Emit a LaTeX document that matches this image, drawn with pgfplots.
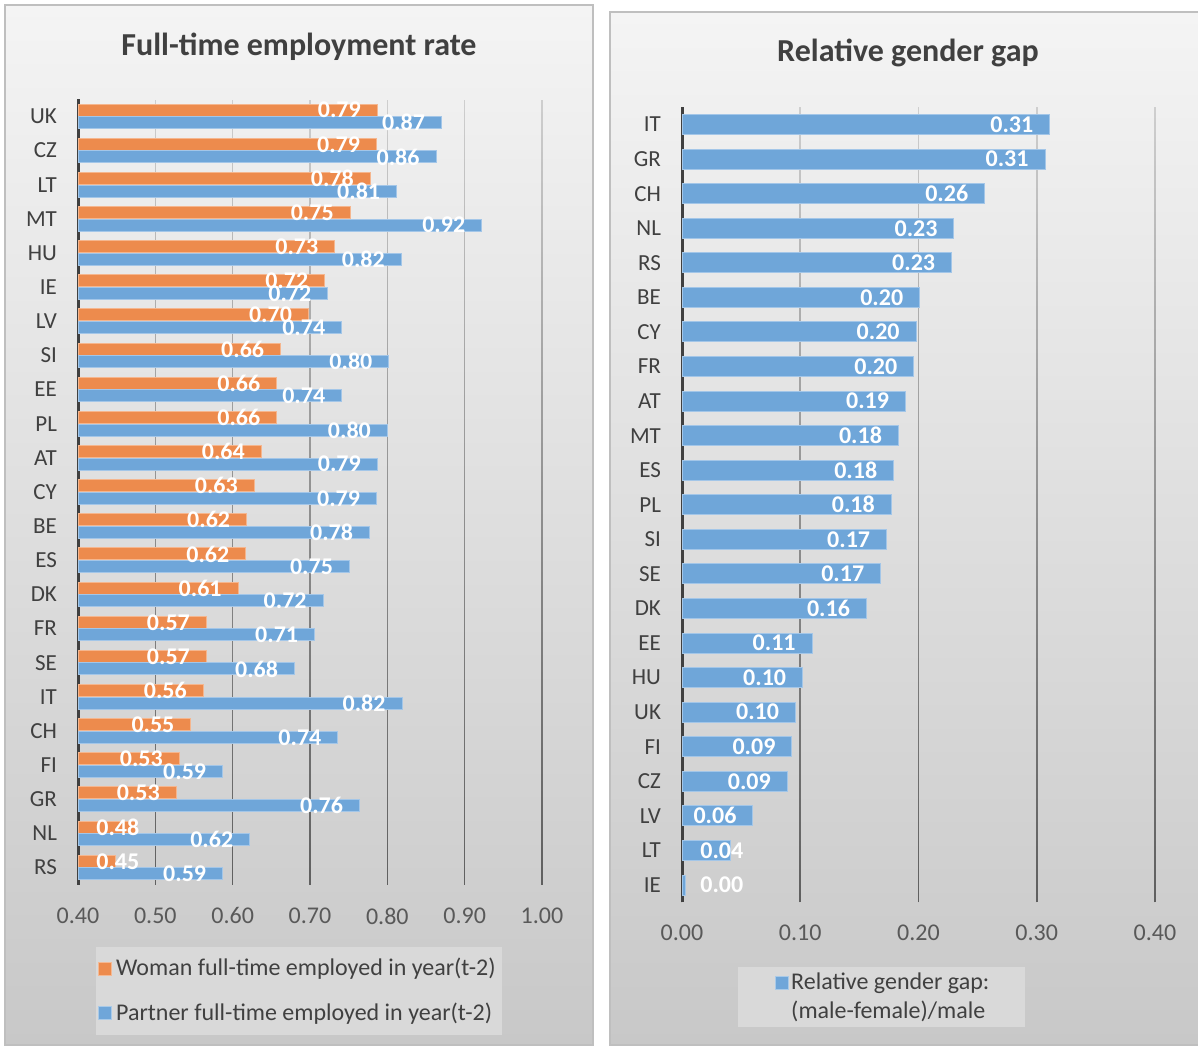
\documentclass[border=0pt]{standalone}
\usepackage{pgfplots}
\pgfplotsset{compat=1.18}
\usetikzlibrary{fadings}
\usepackage{fontspec}
\setmainfont{Carlito}
\definecolor{ob}{HTML}{ED8B4D}
\definecolor{obd}{HTML}{F5B68E}
\definecolor{bb}{HTML}{6FA6D9}
\definecolor{bbd}{HTML}{A3C6E8}
\definecolor{txt}{HTML}{404040}
\definecolor{ticktxt}{HTML}{595959}
\definecolor{pb}{HTML}{BFBFBF}
\definecolor{lf}{HTML}{D9D9D9}
\definecolor{bgtop}{HTML}{F4F4F4}
\definecolor{bgbot}{HTML}{C8C8C8}
\tikzfading[name=gridfade, top color=transparent!80, bottom color=transparent!15]

\pgfplotsset{
  panel/.style={
    scale only axis, xbar,
    axis lines*=left,
    x axis line style={draw=none},
    y axis line style={draw=txt, line width=1.5pt, -},
    major tick length=0pt,
    xmajorgrids, ymajorgrids=false,
    major grid style={draw=black!70, line width=0.8pt, path fading=gridfade},
    xticklabel style={font=\fontsize{12}{14}\selectfont, text=ticktxt, yshift=-8pt},
    yticklabel style={font=\fontsize{11.5}{14}\selectfont, text=txt, xshift=-7pt},
    ytick={0,...,22},
    ymin=-0.5, ymax=22.5,
    legend cell align=left,
    /pgf/number format/assume math mode=true,
  },
  lbl/.style={
    point meta=x,
    nodes near coords={\pgfmathprintnumber[fixed,zerofill,precision=2,assume math mode=true]{\pgfplotspointmeta}},
    nodes near coords align={anchor=east},
    every node near coord/.append style={font=\bfseries\fontsize{12}{13}\selectfont, text=white, inner sep=1pt, xshift=-7pt},
  },
  lblw/.style={
    draw=none, fill=none,
    point meta=explicit symbolic,
    nodes near coords,
    nodes near coords align={anchor=west},
    every node near coord/.append style={font=\bfseries\fontsize{12}{13}\selectfont, text=white, inner sep=1pt},
  },
  sq/.style={legend image code/.code={\draw[fill=#1,draw=#1!60!white,line width=0.5pt] (2pt,-3.25pt) rectangle (8.5pt,3.25pt);}},
}

\begin{document}
\begin{tikzpicture}
\useasboundingbox (0,0) rectangle (599pt,523.5pt);
\fill[white] (0,0) rectangle (599pt,523.5pt);
\shade[top color=bgtop, bottom color=bgbot] (2.5pt,1pt) rectangle (296.5pt,521pt);
\draw[pb, line width=1pt] (2.5pt,1pt) rectangle (296.5pt,521pt);
\shade[top color=bgtop, bottom color=bgbot] (305pt,1pt) rectangle (603pt,517.5pt);
\draw[pb, line width=1pt] (305pt,1pt) rectangle (603pt,517.5pt);

\node[font=\bfseries\fontsize{16}{19}\selectfont, text=txt] at (149.5pt,500pt) {Full-time employment rate};
\node[font=\bfseries\fontsize{16}{19}\selectfont, text=txt] at (454pt,497pt) {Relative gender gap};

% ---------------- left panel ----------------
\begin{axis}[panel, at={(39pt,81.2pt)}, anchor=south west, width=232pt, height=392.6pt,
  xmin=0.4, xmax=1.0,
  xtick={0.4,0.5,0.6,0.7,0.8,0.9,1.0},
  xticklabels={0.40,0.50,0.60,0.70,0.80,0.90,1.00},
  yticklabels={RS,NL,GR,FI,CH,IT,SE,FR,DK,ES,BE,CY,AT,PL,EE,SI,LV,IE,HU,MT,LT,CZ,UK},
  bar width=6pt,
  legend style={at={(0.476,-0.1355)}, anchor=center, fill=lf, draw=none,
    font=\fontsize{12}{14}\selectfont, text=txt, inner xsep=1pt, inner ysep=3.5pt, row sep=8pt},
]
\addplot[fill=ob, draw=obd, line width=0.5pt, bar shift=3.15pt, lbl, sq=ob] coordinates {
 (0.527,2) (0.531,3) (0.546,4) (0.562,5) (0.566,6) (0.566,7) (0.607,8) (0.617,9)
 (0.618,10) (0.628,11) (0.637,12) (0.657,13) (0.657,14) (0.662,15) (0.698,16)
 (0.719,17) (0.732,18) (0.752,19) (0.778,20) (0.786,21) (0.787,22)};
\addlegendentry{Woman full-time employed in year(t-2)}
\addplot[forget plot, fill=ob, draw=obd, line width=0.5pt, bar shift=3.15pt] coordinates {
 (0.449,0) (0.476,1)};
\addplot[forget plot, bar shift=3.15pt, lblw] coordinates {
 (0.4207,0) [0.45] (0.4207,1) [0.48]};
\addplot[fill=bb, draw=bbd, line width=0.5pt, bar shift=-3.15pt, lbl, sq=bb] coordinates {
 (0.587,0) (0.622,1) (0.764,2) (0.587,3) (0.736,4) (0.819,5) (0.680,6) (0.706,7)
 (0.717,8) (0.751,9) (0.777,10) (0.786,11) (0.787,12) (0.800,13) (0.741,14)
 (0.802,15) (0.741,16) (0.723,17) (0.818,18) (0.922,19) (0.812,20) (0.863,21) (0.870,22)};
\addlegendentry{Partner full-time employed in year(t-2)}
\end{axis}

% ---------------- right panel ----------------
\begin{axis}[panel, at={(341pt,72.35pt)}, anchor=south west, width=236.5pt, height=397.5pt,
  xmin=0, xmax=0.4,
  xtick={0,0.1,0.2,0.3,0.4},
  xticklabels={0.00,0.10,0.20,0.30,0.40},
  yticklabels={IE,LT,LV,CZ,FI,UK,HU,EE,DK,SE,SI,PL,ES,MT,AT,FR,CY,BE,RS,NL,CH,GR,IT},
  bar width=10pt,
  legend style={at={(0.4218,-0.1191)}, anchor=center, fill=lf, draw=none,
    font=\fontsize{12}{14}\selectfont, text=txt, inner xsep=17pt, inner ysep=2pt, row sep=2pt,
    nodes={inner sep=1pt}},
]
\addplot[fill=bb, draw=bbd, line width=0.5pt, bar shift=0pt, lbl, sq=bb] coordinates {
 (0.060,2) (0.089,3) (0.093,4) (0.096,5) (0.102,6) (0.110,7) (0.156,8) (0.168,9)
 (0.173,10) (0.177,11) (0.179,12) (0.183,13) (0.189,14) (0.196,15) (0.198,16)
 (0.201,17) (0.228,18) (0.230,19) (0.256,20) (0.307,21) (0.311,22)};
\addlegendentry{Relative gender gap:}
\addlegendimage{empty legend}
\addlegendentry{(male-female)/male}
\addplot[forget plot, fill=bb, draw=bbd, line width=0.5pt, bar shift=0pt] coordinates {
 (0.003,0) (0.041,1)};
\addplot[forget plot, bar shift=0pt, lblw] coordinates {
 (0.0135,0) [0.00] (0.0135,1) [0.04]};
\end{axis}
\end{tikzpicture}
\end{document}
